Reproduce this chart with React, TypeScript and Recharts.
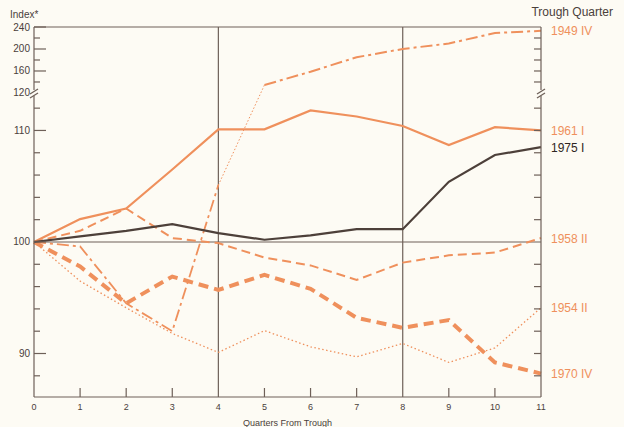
import React from 'react'
import { LineChart, Line, XAxis, YAxis, ReferenceLine, LabelList } from 'recharts'

const quarters = [0, 1, 2, 3, 4, 5, 6, 7, 8, 9, 10, 11]
const s1949 = [100, 99.6, 94.5, 92.0, 105.1, 134.5, 158.7, 185, 200, 210, 229, 233]
const s1954 = [100, 96.5, 94.1, 91.8, 90.1, 92.05, 90.6, 89.7, 90.9, 89.2, 90.5, 94.1]
const s1958 = [100, 101.0, 103.0, 100.35, 99.9, 98.6, 97.9, 96.6, 98.15, 98.8, 99.05, 100.35]
const s1961 = [100, 102.05, 103.0, 106.5, 110.1, 110.1, 111.8, 111.25, 110.4, 108.7, 110.3, 110]
const s1970 = [100, 97.8, 94.5, 96.9, 95.7, 97.05, 95.8, 93.2, 92.3, 93.0, 89.2, 88.2]
const s1975 = [100, 100.5, 101.0, 101.6, 100.8, 100.2, 100.6, 101.15, 101.15, 105.4, 107.8, 108.5]

const lowerTicks = [88, 90, 92, 94, 96, 98, 100, 102, 104, 106, 108, 110, 112]
const upperTicks = [120, 140, 160, 180, 200, 220, 240]
const labeledTicks = [90, 100, 110, 120, 160, 200, 240]

// broken axis: linear up to the break, then 120..240 squeezed into the top strip
const BREAK = 113.36
const K = 0.0493
const fy = (v: number) => (v >= 120 ? BREAK + (v - 120) * K : v)
const yTicks = [...lowerTicks, ...upperTicks].map(fy)
const tickValue = (t: number) => [...lowerTicks, ...upperTicks].find((v) => Math.abs(fy(v) - t) < 1e-6) ?? t

const ORANGE = '#EF905C'
const DARK = '#4d403a'
const AXIS = '#6e6058'
const TEXT = '#4a403b'
const FONT = '"Liberation Sans", Arial, sans-serif'

const data = quarters.map((q, i) => ({
  q,
  a1949: i <= 4 ? fy(s1949[i]) : null,
  b1949: i >= 5 ? fy(s1949[i]) : null,
  c1949: i === 4 || i === 5 ? fy(s1949[i]) : null,
  s1954: fy(s1954[i]),
  s1958: fy(s1958[i]),
  s1961: fy(s1961[i]),
  s1970: fy(s1970[i]),
  s1975: fy(s1975[i]),
}))

function BreakMark({ x, y }: { x: number; y: number }) {
  return (
    <g>
      <rect x={x - 4} y={y - 3} width={8} height={6} fill="#fdfbf4" />
      <path d={`M${x - 4},${y + 1} L${x + 4},${y - 4}`} stroke={AXIS} strokeWidth={1.3} />
      <path d={`M${x - 4},${y + 5} L${x + 4},${y}`} stroke={AXIS} strokeWidth={1.3} />
    </g>
  )
}

function LeftTick(props: any) {
  const { x, y, payload } = props
  const v = tickValue(payload.value)
  const labeled = labeledTicks.includes(v)
  return (
    <g>
      {v === 120 ? <BreakMark x={x} y={y} /> : <line x1={x} x2={x + (labeled ? 12 : 6)} y1={y} y2={y} stroke={AXIS} strokeWidth={1.2} />}
      {labeled && (
        <text x={x - 4} y={y + 3.5} textAnchor="end" fontSize={10} fill={TEXT} fontFamily={FONT}>{v}</text>
      )}
    </g>
  )
}

function RightTick(props: any) {
  const { x, y, payload } = props
  const v = tickValue(payload.value)
  if (v === 240 || v === 100) return null
  return v === 120 ? <BreakMark x={x} y={y} /> : <line x1={x} x2={x - 7} y1={y} y2={y} stroke={AXIS} strokeWidth={1.2} />
}

function XTick(props: any) {
  const { x, y, payload } = props
  const q = payload.value
  return (
    <g>
      {q !== 0 && q !== 4 && q !== 8 && q !== 11 && <line x1={x} x2={x} y1={y} y2={y - 9} stroke={AXIS} strokeWidth={1.2} />}
      <text x={x} y={y + 13} textAnchor="middle" fontSize={9} fill={TEXT} fontFamily={FONT}>{q}</text>
    </g>
  )
}

const endLabel = (text: string, color: string) => (props: any) => {
  if (props.index !== quarters.length - 1) return null
  return (
    <text x={props.x + 10} y={props.y + 4.5} fontSize={12} fill={color} fontFamily={FONT}>{text}</text>
  )
}

export default function App() {
  return (
    <div style={{ width: 624, height: 427, background: '#fdfbf4', position: 'relative' }}>
      <style>{`body{margin:0;background:#fdfbf4}`}</style>
      <div style={{ position: 'absolute', left: 10, top: 9, fontSize: 10, color: TEXT, fontFamily: FONT }}>Index*</div>
      <div style={{ position: 'absolute', right: 11, top: 5, fontSize: 12, color: TEXT, fontFamily: FONT }}>Trough Quarter</div>
      <LineChart width={624} height={427} data={data} margin={{ top: 27, right: 0, bottom: 0, left: 0 }}>
        <XAxis
          dataKey="q"
          type="number"
          domain={[0, 11]}
          ticks={quarters}
          interval={0}
          height={30}
          tickSize={0}
          tickMargin={0}
          tickLine={false}
          stroke={AXIS}
          strokeWidth={1.2}
          tick={<XTick />}
          label={{ value: 'Quarters From Trough', position: 'insideBottom', offset: 1, fontSize: 9, fill: TEXT, fontFamily: FONT }}
        />
        <YAxis
          yAxisId="left"
          type="number"
          domain={[86.1, fy(240)]}
          ticks={yTicks}
          interval={0}
          width={34}
          tickSize={0}
          tickMargin={0}
          tickLine={false}
          stroke={AXIS}
          strokeWidth={1.2}
          allowDataOverflow
          tick={<LeftTick />}
        />
        <YAxis
          yAxisId="right"
          orientation="right"
          type="number"
          domain={[86.1, fy(240)]}
          ticks={yTicks}
          interval={0}
          width={83}
          tickSize={0}
          tickMargin={0}
          tickLine={false}
          stroke={AXIS}
          strokeWidth={1.2}
          allowDataOverflow
          tick={<RightTick />}
        />
        <ReferenceLine yAxisId="left" y={fy(240)} stroke={AXIS} strokeWidth={1.2} />
        <ReferenceLine yAxisId="left" y={100} stroke={AXIS} strokeWidth={1.2} />
        <ReferenceLine yAxisId="left" x={4} stroke={AXIS} strokeWidth={1.2} />
        <ReferenceLine yAxisId="left" x={8} stroke={AXIS} strokeWidth={1.2} />

        <Line yAxisId="left" dataKey="c1949" stroke={ORANGE} strokeWidth={1} strokeDasharray="1.5 2" dot={false} isAnimationActive={false} connectNulls={false} />
        <Line yAxisId="left" dataKey="a1949" stroke={ORANGE} strokeWidth={1.8} strokeDasharray="12 4 3 4" dot={false} isAnimationActive={false} />
        <Line yAxisId="left" dataKey="b1949" stroke={ORANGE} strokeWidth={2} strokeDasharray="12 4 3 4" dot={false} isAnimationActive={false}>
          <LabelList dataKey="b1949" content={endLabel('1949 IV', ORANGE)} />
        </Line>
        <Line yAxisId="left" dataKey="s1954" stroke={ORANGE} strokeWidth={1.3} strokeDasharray="1.5 2.5" dot={false} isAnimationActive={false}>
          <LabelList dataKey="s1954" content={endLabel('1954 II', ORANGE)} />
        </Line>
        <Line yAxisId="left" dataKey="s1958" stroke={ORANGE} strokeWidth={2} strokeDasharray="9 5" dot={false} isAnimationActive={false}>
          <LabelList dataKey="s1958" content={endLabel('1958 II', ORANGE)} />
        </Line>
        <Line yAxisId="left" dataKey="s1961" stroke={ORANGE} strokeWidth={2.2} dot={false} isAnimationActive={false}>
          <LabelList dataKey="s1961" content={endLabel('1961 I', ORANGE)} />
        </Line>
        <Line yAxisId="left" dataKey="s1970" stroke={ORANGE} strokeWidth={4} strokeDasharray="10 6" dot={false} isAnimationActive={false}>
          <LabelList dataKey="s1970" content={endLabel('1970 IV', ORANGE)} />
        </Line>
        <Line yAxisId="left" dataKey="s1975" stroke={DARK} strokeWidth={2.2} dot={false} isAnimationActive={false}>
          <LabelList dataKey="s1975" content={endLabel('1975 I', '#2f2622')} />
        </Line>
      </LineChart>
    </div>
  )
}
